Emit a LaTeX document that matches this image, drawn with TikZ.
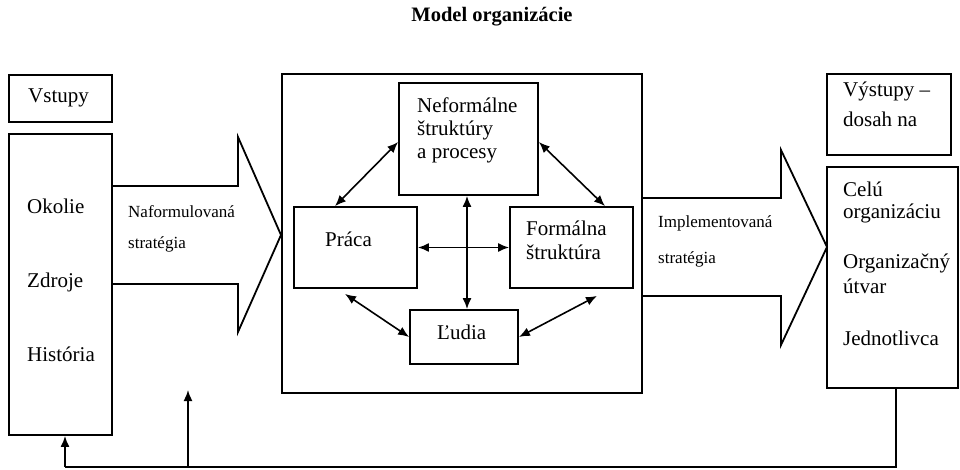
\documentclass[tikz,border=0pt]{standalone}
\usepackage{fontspec}
\setmainfont{Liberation Serif}
\usetikzlibrary{arrows.meta}
\begin{document}
\begin{tikzpicture}[x=1pt,y=-1pt,
  box/.style={draw,line width=1.8pt,inner sep=0pt,minimum width=#1},
  box/.default=10pt,
  txt/.style={anchor=base west,inner sep=0pt,font=\fontsize{21}{23}\selectfont},
  lbl/.style={anchor=base west,inner sep=0pt,font=\fontsize{17}{20}\selectfont},
  bigarrow/.style={draw,line width=1.8pt,line join=miter},
  conn/.style={line width=1.6pt,{Latex[length=11pt,width=9pt]}-{Latex[length=11pt,width=9pt]}},
  fb/.style={line width=1.6pt},
  fbarrow/.style={line width=1.6pt,-{Latex[length=11pt,width=9pt]}}]
\useasboundingbox (0,0) rectangle (960,470);
\node[anchor=base,inner sep=0pt,font=\fontsize{20.5}{23}\selectfont\bfseries] (title) at (492,22) {Model organizácie};
% boxes
\node[box=103pt,minimum height=47pt] (vst) at (60.5,98.5) {};
\node[box=103pt,minimum height=301pt] (left) at (60.5,284.5) {};
\node[box=360pt,minimum height=319pt] (center) at (462,233.5) {};
\node[box=139pt,minimum height=112pt] (nef) at (468.5,139) {};
\node[box=123pt,minimum height=81pt] (prac) at (355.5,247.5) {};
\node[box=123pt,minimum height=81pt] (form) at (571.5,247.5) {};
\node[box=108pt,minimum height=54pt] (lud) at (464,337) {};
\node[box=124pt,minimum height=81pt] (vys) at (889,114.5) {};
\node[box=131pt,minimum height=221pt] (right) at (892.5,277.5) {};
% big arrows
\draw[bigarrow] (112,186) -- (238,186) -- (238,137) -- (281,235) -- (238,332) -- (238,284) -- (112,284);
\draw[bigarrow] (642,198) -- (781,198) -- (781,150) -- (827,247) -- (781,345) -- (781,296) -- (642,296);
% texts
\node[txt] (t1) at (28,103) {Vstupy};
\node[txt] (t2) at (27,214) {Okolie};
\node[txt] (t3) at (27,287) {Zdroje};
\node[txt] (t4) at (27,361) {História};
\node[lbl] (l1) at (128,218) {Naformulovaná};
\node[lbl] (l2) at (128,248) {stratégia};
\node[txt] (n1) at (417,113) {Neformálne};
\node[txt] (n2) at (417,136) {štruktúry};
\node[txt] (n3) at (417,159) {a procesy};
\node[txt] (p1) at (325,247) {Práca};
\node[txt] (f1) at (526,236) {Formálna};
\node[txt] (f2) at (526,259) {štruktúra};
\node[txt] (u1) at (437,339) {Ľudia};
\node[lbl] (l3) at (658,228) {Implementovaná};
\node[lbl] (l4) at (658,263) {stratégia};
\node[txt] (v1) at (843,97) {Výstupy –};
\node[txt] (v2) at (843,127) {dosah na};
\node[txt] (r1) at (843,197) {Celú};
\node[txt] (r2) at (843,219) {organizáciu};
\node[txt] (r3) at (843,269) {Organizačný};
\node[txt] (r4) at (843,293) {útvar};
\node[txt] (r5) at (843,345) {Jednotlivca};
% connectors
\draw[conn] ([yshift=-3pt]nef.west) -- ([xshift=-20.5pt]prac.north);
\draw[conn] ([yshift=-3pt]nef.east) -- ([xshift=33.5pt]form.north);
\draw[conn] ([xshift=-1.5pt]nef.south) -- ([xshift=-1.5pt]nef.south |- lud.north);
\draw[conn] (prac.east) -- (form.west);
\draw[conn] ([xshift=-10.5pt,yshift=-5pt]prac.south) -- (lud.west);
\draw[conn] ([xshift=25.5pt,yshift=-7pt]form.south) -- (lud.east);
% feedback
\coordinate (fbR) at (896,467);
\coordinate (fbL) at (65,467);
\coordinate (fbM) at (188,467);
\coordinate (fbMtip) at (188,390);
\draw[fb] ([xshift=3.5pt]right.south) -- (fbR) -- (fbL);
\draw[fbarrow] (fbL) -- (fbL |- left.south);
\draw[fbarrow] (fbM) -- (fbMtip);
\end{tikzpicture}
\end{document}
